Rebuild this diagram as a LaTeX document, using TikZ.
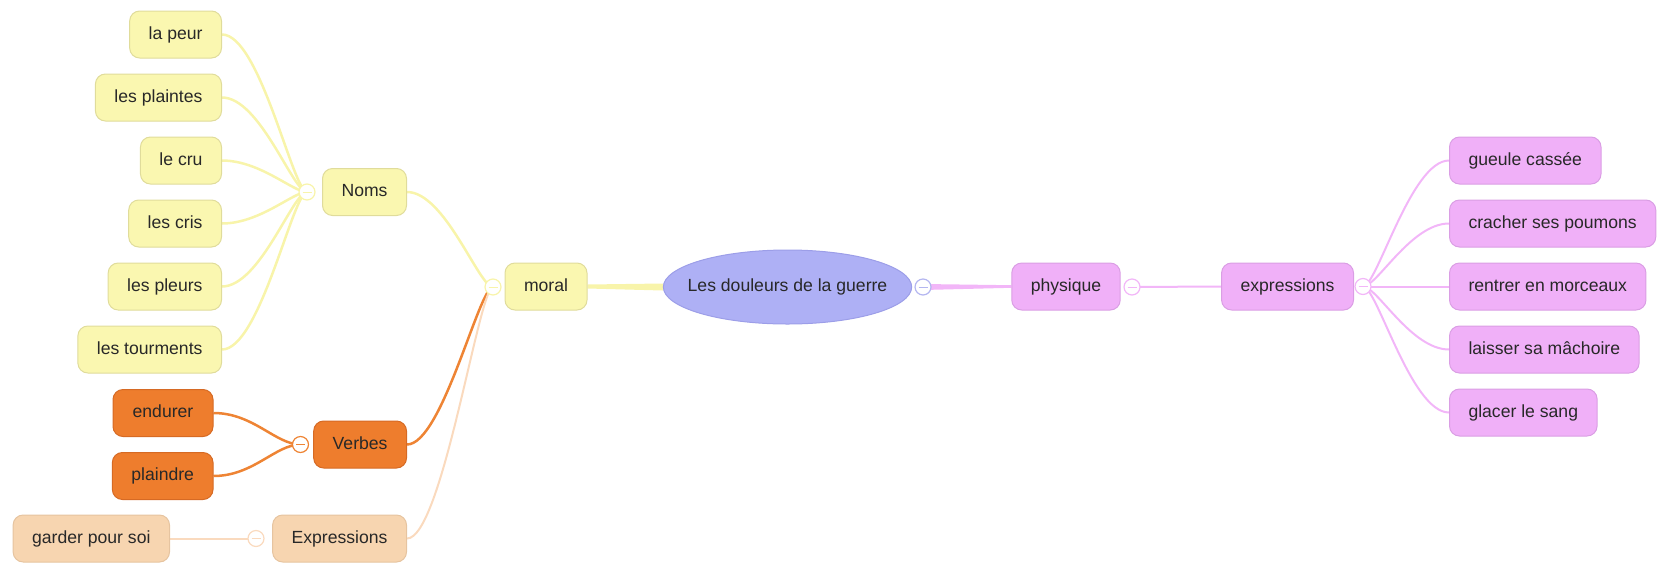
\documentclass[tikz,border=0pt]{standalone}
\usepackage{fontspec}
\setmainfont{Liberation Sans}
\usetikzlibrary{backgrounds,calc,shapes.geometric}
\definecolor{yfill}{RGB}{250,247,176}
\definecolor{yborder}{RGB}{224,220,155}
\definecolor{yline}{RGB}{248,244,170}
\definecolor{ofill}{RGB}{238,125,45}
\definecolor{oborder}{RGB}{214,106,36}
\definecolor{oline}{RGB}{238,132,52}
\definecolor{pfill}{RGB}{247,213,176}
\definecolor{pborder}{RGB}{230,196,160}
\definecolor{pline}{RGB}{250,218,190}
\definecolor{bfill}{RGB}{174,176,245}
\definecolor{bborder}{RGB}{156,158,232}
\definecolor{bline}{RGB}{180,182,240}
\definecolor{mfill}{RGB}{240,176,248}
\definecolor{mborder}{RGB}{218,158,228}
\definecolor{mline}{RGB}{242,182,248}
\definecolor{txt}{RGB}{40,40,40}
\begin{document}
\begin{tikzpicture}[x=1pt,y=-1pt,
  box/.style={rounded corners=10pt, inner xsep=19pt, inner ysep=0pt, minimum height=47pt,
    text height=12.6pt, text depth=3.6pt, line width=1pt, text=txt,
    font=\fontsize{17.6}{20}\selectfont},
  ybox/.style={box, fill=yfill, draw=yborder},
  obox/.style={box, fill=ofill, draw=oborder},
  pbox/.style={box, fill=pfill, draw=pborder},
  mbox/.style={box, fill=mfill, draw=mborder},
  marker/.style={circle, draw=#1, fill=white, line width=1.2pt, minimum size=16pt, inner sep=0pt,
    path picture={\draw[#1,line width=1pt] ([xshift=-4.5pt]path picture bounding box.center) -- ([xshift=4.5pt]path picture bounding box.center);}},
  ylink/.style={draw=yline, line width=2.5pt},
  olink/.style={draw=oline, line width=2.5pt},
  plink/.style={draw=pline, line width=2pt},
  mlink/.style={draw=mline, line width=2pt}
]
\useasboundingbox (0,0) rectangle (1665,563);

% central
\node[ellipse, fill=bfill, draw=bborder, line width=1pt, minimum height=74pt, inner xsep=-12pt, inner ysep=0pt,
  text=txt, font=\fontsize{17.6}{20}\selectfont, text height=12.6pt, text depth=3.6pt] (root) at (787.5,287) {Les douleurs de la guerre};

% left branch
\node[ybox] (moral) at (546,286.5) {moral};
\node[ybox, anchor=east] (noms) at (407,192) {Noms};
\node[ybox, anchor=east] (lapeur) at (222,34.5) {la peur};
\node[ybox, anchor=east] (plaintes) at (222,97.5) {les plaintes};
\node[ybox, anchor=east] (cru) at (222,160.5) {le cru};
\node[ybox, anchor=east] (cris) at (222,223.5) {les cris};
\node[ybox, anchor=east] (pleurs) at (222,286.5) {les pleurs};
\node[ybox, anchor=east] (tourments) at (222,349.5) {les tourments};
\node[obox, anchor=east] (verbes) at (407,444.5) {Verbes};
\node[obox, anchor=east, minimum width=100pt] (endurer) at (213.5,413) {endurer};
\node[obox, anchor=east, minimum width=100pt] (plaindre) at (213.5,476) {plaindre};
\node[pbox, anchor=east] (exprL) at (407,538.5) {Expressions};
\node[pbox, anchor=east] (garder) at (170,538.5) {garder pour soi};

% right branch
\node[mbox] (physique) at (1066,286.5) {physique};
\node[mbox, anchor=east] (exprR) at (1354,286.5) {expressions};
\node[mbox, anchor=west] (gueule) at (1449,160.5) {gueule cassée};
\node[mbox, anchor=west] (cracher) at (1449,223.5) {cracher ses poumons};
\node[mbox, anchor=west] (rentrer) at (1449,286.5) {rentrer en morceaux};
\node[mbox, anchor=west] (laisser) at (1449,349.5) {laisser sa mâchoire};
\node[mbox, anchor=west] (glacer) at (1449,412.5) {glacer le sang};

% collapse markers
\node[marker=yline] (cNoms) at (307,192) {};
\node[marker=yline] (cMoral) at (493,287) {};
\node[marker=oline] (cVerbes) at (300.5,444.5) {};
\node[marker=pline] (cExprL) at (256,538.5) {};
\node[marker=bline] (cRoot) at (923,287) {};
\node[marker=mline] (cPhys) at (1132,287) {};
\node[marker=mline] (cExprR) at (1363,286.5) {};

\begin{scope}[on background layer]
  \foreach \n in {lapeur,plaintes,cru,cris,pleurs,tourments}
    \draw[ylink] (\n.east) .. controls +(38,0) and +(-14,0) .. (cNoms.center);
  \draw[ylink] (noms.east) .. controls +(38,0) and +(-14,0) .. (cMoral.center);
  \draw[olink] (verbes.east) .. controls +(35,0) and +(-14,0) .. (cMoral.center);
  \draw[plink] (exprL.east) .. controls +(35,0) and +(-14,0) .. (cMoral.center);
  \draw[olink] (endurer.east) .. controls +(40,0) and +(-25,0) .. (cVerbes.center);
  \draw[olink] (plaindre.east) .. controls +(40,0) and +(-25,0) .. (cVerbes.center);
  \draw[plink] (garder.east) -- (cExprL.center);
  \fill[yline] ($(moral.east)+(0,2)$) -- ($(root.west)+(0,3.5)$) -- ($(root.west)+(0,-3.5)$) -- ($(moral.east)+(0,-2)$) -- cycle;
  \fill[mline] ($(cRoot.center)+(0,3)$) -- ($(physique.west)+(0,1.3)$) -- ($(physique.west)+(0,-1.3)$) -- ($(cRoot.center)+(0,-3)$) -- cycle;
  \draw[mlink] (cPhys.center) -- (exprR.west);
  \foreach \n in {gueule,cracher,rentrer,laisser,glacer}
    \draw[mlink] (cExprR.center) .. controls +(14,0) and +(-38,0) .. (\n.west);
\end{scope}
\end{tikzpicture}
\end{document}
